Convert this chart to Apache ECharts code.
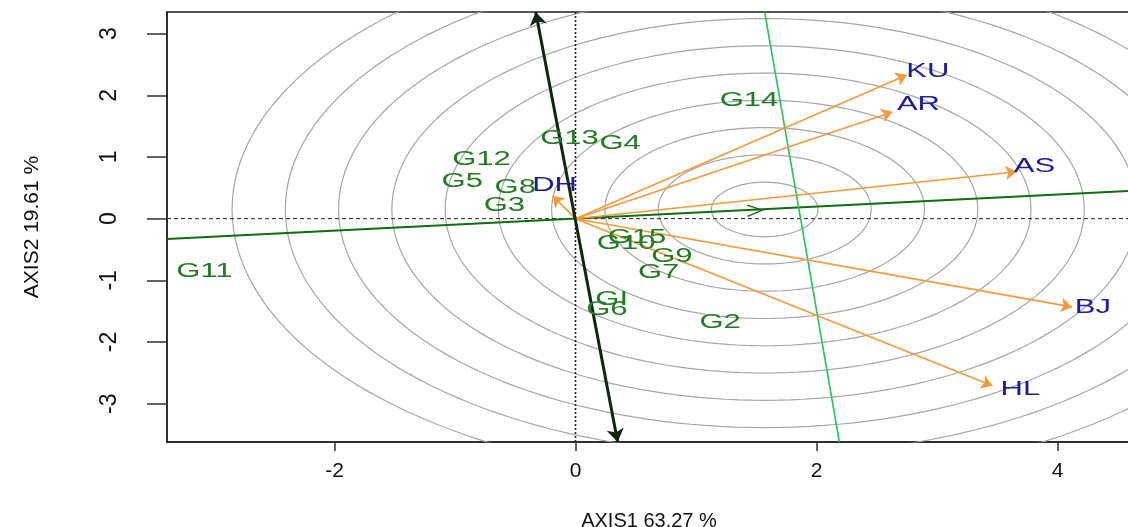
<!DOCTYPE html>
<html>
<head>
<meta charset="utf-8">
<script src="https://cdn.jsdelivr.net/npm/echarts@6.0.0/dist/echarts.min.js"></script>
<style>
html,body{margin:0;padding:0;background:#fff;}
#chart{width:1128px;height:527px;}
</style>
</head>
<body>
<div id="chart"></div>
<script>
// genotypes (label positions)
var genoNames = ['G11','G12','G5','G8','G3','G13','G4','G14','G15','G10','G9','G7','GI','G6','G2'];
var genoX = [-3.08,-0.78,-0.94,-0.50,-0.59,-0.05,0.37,1.44,0.51,0.42,0.80,0.69,0.30,0.26,1.20];
var genoY = [-0.86,0.96,0.60,0.50,0.21,1.30,1.22,1.91,-0.31,-0.41,-0.62,-0.88,-1.31,-1.47,-1.69];

// environments (arrow tips)
var envNames = ['KU','AR','AS','BJ','HL','DH'];
var envX = [2.75,2.63,3.66,4.12,3.46,-0.19];
var envY = [2.33,1.73,0.76,-1.43,-2.71,0.37];

var xTicks = [-2,0,2,4];
var yTicks = [-3,-2,-1,0,1,2,3];
var xRange = [-3.39,4.61];
var yRange = [-3.62,3.35];

// average environment axis and its ordinate
var aeaLine = [[-3.39,-0.33],[4.61,0.45]];
var aecLine = [[-0.33,3.35],[0.35,-3.62]];
var greenLine = [[1.57,3.35],[2.19,-3.62]];
var aeaArrow = [1.55,0.14];

// concentric circles
var ringCenter = [1.57,0.15];
var ringStep = 0.442;
var ringCount = 10;

var labelFont = 'Liberation Sans';
var envOffset = {KU:[21,-3],AR:[26,-7],AS:[18,-5],BJ:[21,1],HL:[28,4],DH:[2,-10]};

var chart = echarts.init(document.getElementById('chart'));

var series = [];

//rings
for (var k = 1; k <= ringCount; k++) {
    var r = ringStep * k;
    var pts = [];
    for (var a = 0; a <= 360; a += 2) {
        var t = a * Math.PI / 180;
        pts.push([ringCenter[0] + r * Math.cos(t), ringCenter[1] + r * Math.sin(t)]);
    }
    series.push({
        type: 'line', data: pts, showSymbol: false, symbol: 'none', clip: true,
        lineStyle: {color: '#a6a6a6', width: 1.2}, silent: true, z: 1
    });
}

// zero lines
series.push({
    type: 'line', data: [[xRange[0],0],[xRange[1],0]], symbol: 'none', z: 2,
    lineStyle: {color: '#222', width: 1, type: [4,3]}, silent: true
});
series.push({
    type: 'line', data: [[0,yRange[0]],[0,yRange[1]]], symbol: 'none', z: 2,
    lineStyle: {color: '#222', width: 1.6, type: [2,2]}, silent: true
});

// axes of the biplot
series.push({
    type: 'line', data: aeaLine, symbol: 'none', z: 3, clip: true,
    lineStyle: {color: '#136b13', width: 2}, silent: true
});
series.push({
    type: 'line', data: greenLine, symbol: 'none', z: 3, clip: true,
    lineStyle: {color: '#27c45a', width: 1.6}, silent: true
});

// environment vectors
series.push({
    type: 'lines', coordinateSystem: 'cartesian2d', z: 4,
    symbol: ['none','arrow'], symbolSize: 11,
    lineStyle: {color: '#f29a3c', width: 1.6, opacity: 1, curveness: 0},
    data: envNames.map(function(n,i){ return {coords: [[0,0],[envX[i],envY[i]]]}; }),
    silent: true
});

series.push({
    type: 'lines', coordinateSystem: 'cartesian2d', z: 5,
    symbol: ['arrow','arrow'], symbolSize: 13,
    lineStyle: {color: '#0f260f', width: 3, opacity: 1},
    data: [{coords: aecLine}],
    silent: true
});

// open arrow head on the AEA
series.push({
    type: 'custom', coordinateSystem: 'cartesian2d', z: 5, silent: true,
    data: [aeaArrow],
    renderItem: function(params, api){
        var tip = api.coord([api.value(0), api.value(1)]);
        var o = api.coord([0,0]);
        var ang = Math.atan2(tip[1]-o[1], tip[0]-o[0]);
        var L = 16, w = 0.36;
        var p1 = [tip[0]-L*Math.cos(ang-w), tip[1]-L*Math.sin(ang-w)];
        var p2 = [tip[0]-L*Math.cos(ang+w), tip[1]-L*Math.sin(ang+w)];
        return {type: 'polyline', shape: {points: [p1, tip, p2]},
                style: {stroke: '#136b13', lineWidth: 1.4, fill: null}};
    }
});

function labelSeries(names, xs, ys, color, offsets){
    return {
        type: 'custom', coordinateSystem: 'cartesian2d', z: 10, silent: true,
        data: names.map(function(n,i){ return [xs[i], ys[i], i]; }),
        renderItem: function(params, api){
            var i = api.value(2);
            var p = api.coord([api.value(0), api.value(1)]);
            var off = offsets ? offsets[names[i]] : [0,0];
            return {
                type: 'text', x: p[0] + off[0], y: p[1] + off[1], scaleX: 1.55,
                style: {text: names[i], fill: color, fontSize: 20, fontFamily: labelFont,
                        align: 'center', verticalAlign: 'middle'}
            };
        }
    };
}
series.push(labelSeries(genoNames, genoX, genoY, '#237c23', null));
series.push(labelSeries(envNames, envX, envY, '#1c1c9e', envOffset));

var option = {
    animation: false,
    backgroundColor: '#fff',
    grid: {left: 167, top: 12, right: -3, bottom: 85, show: true,
           borderColor: '#222', borderWidth: 1.5, containLabel: false, outerBoundsMode: 'none'},
    xAxis: {
        type: 'value', min: xRange[0], max: xRange[1],
        splitLine: {show: false},
        axisLine: {show: true, onZero: false, lineStyle: {color: '#222', width: 1.5}},
        axisTick: {show: true, customValues: xTicks, length: 9, lineStyle: {color: '#333', width: 1.5}},
        axisLabel: {customValues: xTicks, fontSize: 21, color: '#111', margin: 19, fontFamily: labelFont},
        name: 'AXIS1 63.27 %', nameLocation: 'middle', nameGap: 69,
        nameTextStyle: {fontSize: 20, color: '#111', fontFamily: labelFont}
    },
    yAxis: {
        type: 'value', min: yRange[0], max: yRange[1],
        splitLine: {show: false},
        axisLine: {show: true, onZero: false, lineStyle: {color: '#222', width: 1.5}},
        axisTick: {show: true, customValues: yTicks, length: 20, lineStyle: {color: '#333', width: 1.5}},
        axisLabel: {customValues: yTicks, fontSize: 23, color: '#111', margin: 46, rotate: 90, fontFamily: labelFont},
        name: 'AXIS2 19.61 %', nameLocation: 'middle', nameGap: 124,
        nameTextStyle: {fontSize: 21, color: '#111', fontFamily: labelFont}
    },
    series: series
};

chart.setOption(option);
</script>
</body>
</html>
